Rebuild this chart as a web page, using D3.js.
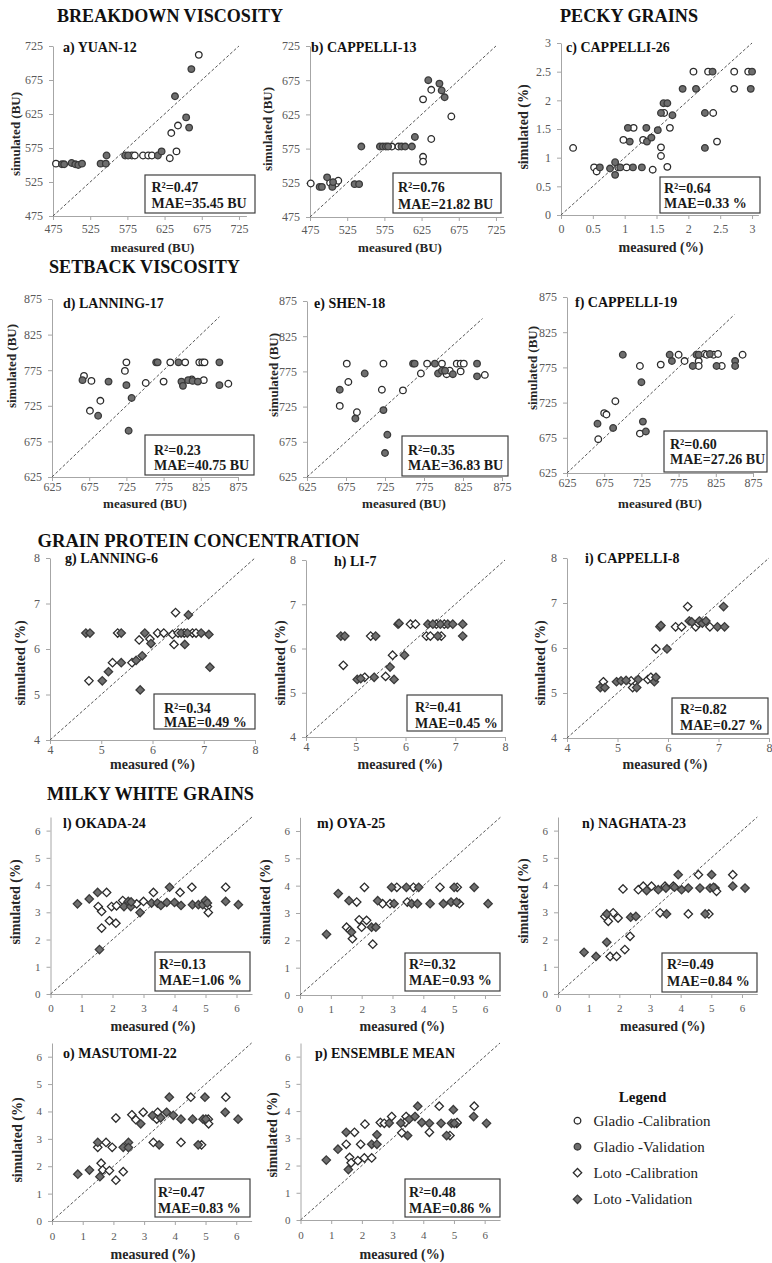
<!DOCTYPE html>
<html>
<head>
<meta charset="utf-8">
<script src="https://cdn.jsdelivr.net/npm/d3@7"></script>
<style>
  body { margin: 0; background: #fff; }
  svg text { font-family: "Liberation Serif", "Times New Roman", serif; }
  .axis path, .axis line { stroke: #a6a6a6; stroke-width: 1; }
  .axis text { fill: #595959; }
</style>
</head>
<body>
<svg id="fig" width="772" height="1263"></svg>
<script>
// ---------------- data ----------------
// [measured, simulated] pairs, calibration (open) and validation (filled)
const yuanCal = [[479,552],[581,564],[585,564],[596,564],[603,564],[608,564],[632,560],[634,597],[641,570],[643,608],[671,712]];
const yuanVal = [[487,551],[490,551],[500,553],[505,551],[509,550],[514,552],[539,552],[546,552],[547,564],[572,564],[576,564],[616,564],[621,570],[639,651],[654,620],[658,605],[661,691]];

const cappelli13Cal = [[476,524],[502,525],[510,524],[513,528],[585,578],[594,578],[627,647],[627,563],[627,556],[638,661],[638,589],[665,622]];
const cappelli13Val = [[488,519],[491,519],[498,533],[505,519],[506,526],[535,523],[541,523],[544,578],[569,578],[573,578],[577,578],[580,578],[598,578],[603,578],[612,578],[616,592],[634,675],[649,670],[652,660],[656,650]];

const cappelli26Cal = [[0.19,1.17],[0.52,0.83],[0.56,0.76],[0.90,0.83],[0.98,1.31],[1.03,0.83],[1.14,1.52],[1.29,1.31],[1.44,0.79],[1.57,1.03],[1.57,1.18],[1.62,1.78],[1.67,0.84],[1.71,1.52],[2.08,2.5],[2.31,2.5],[2.39,1.78],[2.45,1.28],[2.72,2.5],[2.72,2.2],[2.94,2.5]];
const cappelli26Val = [[0.61,0.83],[0.77,0.81],[0.85,0.92],[0.85,0.70],[0.93,0.83],[1.05,1.52],[1.08,1.28],[1.13,0.83],[1.27,0.83],[1.34,1.52],[1.35,1.28],[1.42,1.35],[1.52,1.48],[1.57,1.78],[1.61,1.95],[1.67,1.95],[1.75,1.74],[1.91,2.2],[2.12,2.2],[2.26,1.78],[2.26,1.17],[2.38,2.5],[2.98,2.2],[3.0,2.5]];

const lanning17Cal = [[668,767],[678,760],[676,718],[690,732],[723,774],[725,786],[751,757],[775,759],[784,786],[804,786],[813,762],[823,786],[827,786],[830,786],[829,761],[862,756]];
const lanning17Val = [[666,761],[687,711],[701,759],[725,754],[732,736],[728,690],[765,786],[767,786],[795,786],[799,759],[801,753],[808,761],[814,760],[821,759],[850,786],[850,754]];

const shen18Cal = [[676,786],[678,760],[667,726],[689,717],[723,786],[721,749],[748,748],[771,772],[779,786],[798,786],[804,771],[808,776],[817,786],[822,786],[826,786],[822,775],[853,770]];
const shen18Val = [[667,749],[699,772],[687,708],[723,720],[728,685],[725,659],[761,786],[763,786],[789,786],[793,772],[798,776],[802,776],[812,771],[843,786],[843,768]];

const cappelli19Cal = [[667,673],[675,710],[678,708],[690,727],[723,777],[723,681],[751,779],[775,793],[783,784],[802,784],[802,777],[810,794],[813,793],[822,793],[828,794],[833,777],[861,793]];
const cappelli19Val = [[666,695],[687,689],[700,793],[725,754],[727,698],[731,684],[763,793],[766,784],[794,777],[799,793],[802,793],[817,794],[826,777],[851,784],[851,777]];

const lanning6Cal = [[4.76,5.3],[5.22,5.7],[5.32,6.35],[5.6,5.7],[5.74,6.2],[5.95,6.22],[6.1,6.35],[6.22,6.35],[6.39,6.32],[6.42,6.1],[6.45,6.8],[6.5,6.35],[6.62,6.35],[6.78,6.35],[6.85,6.35]];
const lanning6Val = [[4.7,6.35],[4.78,6.35],[5.02,5.3],[5.14,5.5],[5.39,6.35],[5.39,5.7],[5.68,5.75],[5.76,5.1],[5.8,5.85],[5.85,6.35],[5.97,6.12],[6.56,6.35],[6.63,6.1],[6.7,6.75],[6.68,6.35],[6.95,6.35],[7.1,6.32],[7.12,5.6]];

const li7Cal = [[4.75,5.62],[5.18,5.35],[5.3,6.28],[5.6,5.37],[5.74,5.85],[6.1,6.55],[6.2,6.55],[6.42,6.28],[6.5,6.28],[6.62,6.55],[6.72,6.28],[6.78,6.55]];
const li7Val = [[4.7,6.28],[4.78,6.28],[5.03,5.3],[5.1,5.32],[5.4,6.28],[5.37,5.35],[5.69,5.58],[5.77,5.3],[5.85,6.55],[5.87,6.57],[5.98,5.85],[6.45,6.55],[6.55,6.55],[6.65,6.28],[6.7,6.55],[6.85,6.55],[6.95,6.55],[7.15,6.55],[7.15,6.28]];

const cappelli8Cal = [[4.72,5.25],[5.27,5.27],[5.3,5.12],[5.6,5.3],[5.66,5.35],[5.76,5.98],[6.15,6.47],[6.27,6.47],[6.39,6.92],[6.55,6.47],[6.6,6.55],[6.83,6.47]];
const cappelli8Val = [[4.66,5.12],[4.75,5.12],[4.98,5.25],[5.07,5.27],[5.17,5.28],[5.38,5.12],[5.41,5.3],[5.73,5.25],[5.76,5.35],[5.84,6.47],[5.86,6.5],[5.98,5.98],[6.42,6.6],[6.47,6.58],[6.62,6.6],[6.68,6.55],[6.75,6.6],[6.98,6.47],[7.1,6.92],[7.12,6.47]];

const okada24Cal = [[1.54,3.21],[1.65,3.03],[1.65,2.42],[1.81,3.73],[1.9,2.69],[1.97,3.21],[2.13,3.24],[2.11,2.6],[2.33,3.43],[2.78,3.31],[3.0,3.4],[3.32,3.73],[4.18,3.73],[4.56,3.92],[5.06,3.21],[5.09,2.99],[5.65,3.92]];
const okada24Val = [[0.87,3.31],[1.25,3.49],[1.52,3.73],[1.58,1.63],[2.37,3.21],[2.51,3.4],[2.59,3.21],[2.6,3.38],[2.89,2.99],[3.26,3.34],[3.45,3.34],[3.56,3.25],[3.75,3.36],[3.84,3.92],[4.0,3.36],[4.21,3.25],[4.58,3.28],[4.77,3.28],[4.91,3.28],[5.0,3.43],[5.06,3.34],[5.65,3.4],[6.06,3.28]];

const oya25Cal = [[1.51,2.48],[1.62,2.36],[1.7,2.06],[1.84,3.4],[1.92,2.75],[2.0,2.48],[2.16,2.73],[2.09,3.94],[2.36,1.86],[2.68,3.34],[2.92,3.34],[3.14,3.94],[3.48,3.4],[3.68,3.94],[4.54,3.94],[5.1,3.94],[5.17,3.34]];
const oya25Val = [[0.86,2.22],[1.24,3.71],[1.59,3.45],[1.67,2.3],[2.32,2.48],[2.46,2.48],[2.52,3.45],[2.97,3.94],[3.05,3.34],[3.45,3.94],[3.62,3.34],[3.81,3.34],[3.85,3.94],[4.22,3.34],[4.65,3.34],[4.9,3.4],[5.0,3.94],[5.08,3.4],[5.65,3.94],[6.1,3.34]];

const naghata23Cal = [[1.53,2.85],[1.64,2.67],[1.7,1.38],[1.8,2.98],[1.91,1.38],[1.96,2.79],[2.12,3.86],[2.18,1.63],[2.35,2.12],[2.62,3.83],[2.78,3.96],[3.05,3.96],[3.33,2.98],[3.49,3.96],[3.76,3.96],[4.25,2.94],[4.58,4.38],[4.92,2.94],[5.12,3.89],[5.17,3.77],[5.7,4.38]];
const naghata23Val = [[0.85,1.53],[1.24,1.38],[1.59,2.94],[1.59,1.9],[2.37,2.82],[2.54,2.85],[2.89,3.8],[3.27,3.83],[3.52,3.89],[3.54,2.94],[3.8,3.92],[3.92,4.38],[4.03,3.83],[4.25,3.89],[4.63,3.89],[4.8,2.94],[4.96,3.89],[5.01,4.38],[5.07,3.92],[5.7,3.96],[6.1,3.89]];

const masutomi22Cal = [[1.49,2.69],[1.6,2.11],[1.65,1.86],[1.76,2.87],[1.87,1.84],[1.96,2.69],[2.08,1.49],[2.08,3.76],[2.32,1.8],[2.6,3.88],[2.73,3.7],[2.97,3.97],[3.3,2.87],[3.44,3.97],[3.41,3.72],[4.2,2.87],[4.52,4.52],[4.87,2.78],[5.09,3.72],[5.1,3.55],[5.66,4.52]];
const masutomi22Val = [[0.84,1.71],[1.22,1.86],[1.49,2.87],[1.56,1.62],[2.32,2.69],[2.49,2.87],[2.49,2.68],[2.89,3.55],[3.27,3.85],[3.49,2.78],[3.54,3.77],[3.73,3.97],[3.82,4.52],[3.95,3.86],[4.2,3.72],[4.58,3.72],[4.76,2.78],[4.98,4.52],[4.92,3.72],[5.01,3.72],[5.64,3.97],[6.06,3.72]];

const ensembleCal = [[1.49,2.78],[1.6,2.3],[1.65,2.1],[1.76,3.22],[1.87,2.18],[1.96,2.78],[2.08,2.28],[2.1,3.52],[2.32,2.28],[2.6,3.58],[2.73,3.55],[2.97,3.8],[3.3,3.2],[3.44,3.8],[3.41,3.58],[4.2,3.22],[4.52,4.18],[4.87,3.1],[5.09,3.55],[5.1,3.58],[5.66,4.18]];
const ensembleVal = [[0.84,2.2],[1.22,2.6],[1.49,3.22],[1.56,1.85],[2.32,2.78],[2.49,2.78],[2.49,3.13],[2.89,3.56],[3.27,3.56],[3.49,3.1],[3.54,3.7],[3.73,3.8],[3.82,4.18],[3.95,3.58],[4.2,3.55],[4.58,3.55],[4.76,3.1],[4.98,4.05],[4.92,3.55],[5.01,3.55],[5.64,3.8],[6.06,3.55]];

// goodness-of-fit statistics [R2, MAE]
const breakdownStats = [["0.47", "35.45 BU"], ["0.76", "21.82 BU"]];
const peckyStats = [["0.64", "0.33 %"]];
const setbackStats = [["0.23", "40.75 BU"], ["0.35", "36.83 BU"], ["0.60", "27.26 BU"]];
const proteinStats = [["0.34", "0.49 %"], ["0.41", "0.45 %"], ["0.82", "0.27 %"]];
const milkyStats = [["0.13", "1.06 %"], ["0.32", "0.93 %"], ["0.49", "0.84 %"], ["0.47", "0.83 %"], ["0.48", "0.86 %"]];

// tick values
const breakdownTicks = [475, 525, 575, 625, 675, 725];
const peckyTicks = [0, 0.5, 1, 1.5, 2, 2.5, 3];
const setbackTicks = [625, 675, 725, 775, 825, 875];
const proteinTicks = [4, 5, 6, 7, 8];
const milkyTicks = [0, 1, 2, 3, 4, 5, 6];

const sectionTitles = ["BREAKDOWN VISCOSITY", "PECKY GRAINS", "SETBACK VISCOSITY", "GRAIN PROTEIN CONCENTRATION", "MILKY WHITE GRAINS"];
const legendLabels = ["Gladio -Calibration", "Gladio -Validation", "Loto -Calibration", "Loto -Validation"];

// ---------------- panels ----------------
const BU = {x: "measured (BU)", y: "simulated (BU)", yf: 13};
const PC = {x: "measured (%)", y: "simulated (%)", yf: 14};

const panels = [
  {t: "a) YUAN-12", cal: yuanCal, val: yuanVal, st: breakdownStats[0], shape: "c", ticks: breakdownTicks, lab: BU,
   xd: [475, 735], xr: [53, 246.4], yd: [475, 725], yr: [216, 46], one: [475, 725], pad: 4.5, tf: 12,
   tp: [63, 52], yl: [15, 134], xl: [152.5, 252], box: [145, 175, 110, 38], sx: 151.5, sy: [191.5, 208]},
  {t: "b) CAPPELLI-13", cal: cappelli13Cal, val: cappelli13Val, st: breakdownStats[1], shape: "c", ticks: breakdownTicks, lab: BU,
   xd: [475, 735], xr: [310, 503.4], yd: [475, 725], yr: [217, 46], one: [475, 725], pad: 4.5, tf: 12,
   tp: [311, 52], yl: [267, 129], xl: [400, 252], box: [393, 173, 108, 40], sx: 398, sy: [192, 209]},
  {t: "c) CAPPELLI-26", cal: cappelli26Cal, val: cappelli26Val, st: peckyStats[0], shape: "c", ticks: peckyTicks, lab: PC,
   xd: [0, 3.1], xr: [561, 758.4], yd: [0, 3], yr: [215, 43], one: [0, 3], pad: 5.5, tf: 12,
   tp: [566, 51.5], yl: [523, 127], xl: [661, 252], box: [660, 177, 100, 36], sx: 664, sy: [193, 208]},
  {t: "d) LANNING-17", cal: lanning17Cal, val: lanning17Val, st: setbackStats[0], shape: "c", ticks: setbackTicks, lab: BU,
   xd: [625, 875], xr: [52, 238], yd: [625, 875], yr: [477, 299], one: [625, 850], pad: 1, tf: 12,
   tp: [63, 308], yl: [11, 366], xl: [145, 508], box: [145, 435, 109, 40], sx: 154, sy: [455, 470]},
  {t: "e) SHEN-18", cal: shen18Cal, val: shen18Val, st: setbackStats[1], shape: "c", ticks: setbackTicks, lab: BU,
   xd: [625, 875], xr: [307, 502], yd: [625, 875], yr: [477, 301], one: [625, 850], pad: 1, tf: 12,
   tp: [314, 308], yl: [273, 375], xl: [404, 508], box: [402, 436, 106, 40], sx: 408, sy: [455, 470]},
  {t: "f) CAPPELLI-19", cal: cappelli19Cal, val: cappelli19Val, st: setbackStats[2], shape: "c", ticks: setbackTicks, lab: BU,
   xd: [625, 875], xr: [567, 753], yd: [625, 875], yr: [473, 297], one: [625, 850], pad: 1, tf: 12,
   tp: [575, 306.5], yl: [532, 368], xl: [660, 508], box: [664, 431, 103, 41], sx: 670, sy: [449, 464]},
  {t: "g) LANNING-6", cal: lanning6Cal, val: lanning6Val, st: proteinStats[0], shape: "d", ticks: proteinTicks, lab: PC,
   xd: [4, 8], xr: [50, 255], yd: [4, 8], yr: [740, 558], one: [4, 8], pad: 1, tf: 12,
   tp: [65, 563], yl: [20, 663], xl: [152.5, 769], box: [154, 694, 101, 35], sx: 164, sy: [712.5, 727]},
  {t: "h) LI-7", cal: li7Cal, val: li7Val, st: proteinStats[1], shape: "d", ticks: proteinTicks, lab: PC,
   xd: [4, 8], xr: [306, 505], yd: [4, 8], yr: [737, 560], one: [4, 8], pad: 1, tf: 12,
   tp: [334, 566], yl: [280, 663], xl: [400, 769], box: [407, 695, 95, 36], sx: 415, sy: [711.5, 728]},
  {t: "i) CAPPELLI-8", cal: cappelli8Cal, val: cappelli8Val, st: proteinStats[2], shape: "d", ticks: proteinTicks, lab: PC,
   xd: [4, 8], xr: [567, 769], yd: [4, 8], yr: [738, 558], one: [4, 8], pad: 1, tf: 12,
   tp: [585, 563], yl: [540, 663], xl: [665, 769], box: [672, 698, 96, 36], sx: 680, sy: [714, 730]},
  {t: "l) OKADA-24", cal: okada24Cal, val: okada24Val, st: milkyStats[0], shape: "d", ticks: milkyTicks, lab: PC,
   xd: [0, 6.5], xr: [50.5, 252], yd: [0, 6.5], yr: [994, 817], one: [0, 6.5], pad: 6, tf: 11,
   tp: [63, 828], yl: [15, 902], xl: [153, 1031], box: [155, 952, 95, 39], sx: 159, sy: [969, 985]},
  {t: "m) OYA-25", cal: oya25Cal, val: oya25Val, st: milkyStats[1], shape: "d", ticks: milkyTicks, lab: PC,
   xd: [0, 6.5], xr: [300, 500.4], yd: [0, 6.5], yr: [995, 817.3], one: [0, 6.5], pad: 6, tf: 11,
   tp: [317, 828], yl: [265, 902], xl: [402, 1031], box: [405, 953, 95, 38], sx: 409, sy: [969, 985]},
  {t: "n) NAGHATA-23", cal: naghata23Cal, val: naghata23Val, st: milkyStats[2], shape: "d", ticks: milkyTicks, lab: PC,
   xd: [0, 6.5], xr: [558, 757.3], yd: [0, 6.5], yr: [994, 817], one: [0, 6.5], pad: 6, tf: 11,
   tp: [582, 828], yl: [523, 901], xl: [662.5, 1031], box: [662, 953, 95, 39], sx: 667, sy: [969, 985.5]},
  {t: "o) MASUTOMI-22", cal: masutomi22Cal, val: masutomi22Val, st: milkyStats[3], shape: "d", ticks: milkyTicks, lab: PC,
   xd: [0, 6.5], xr: [52, 251.6], yd: [0, 6.5], yr: [1221, 1043], one: [0, 6.5], pad: 7.5, tf: 11,
   tp: [63, 1058], yl: [17, 1140], xl: [153, 1259], box: [155, 1179, 95, 38], sx: 158, sy: [1196.5, 1213]},
  {t: "p) ENSEMBLE MEAN", cal: ensembleCal, val: ensembleVal, st: milkyStats[4], shape: "d", ticks: milkyTicks, lab: PC,
   xd: [0, 6.5], xr: [300.5, 500], yd: [0, 6.5], yr: [1220, 1043], one: [0, 6.5], pad: 7.5, tf: 11,
   tp: [315, 1058], yl: [272, 1135], xl: [402, 1259], box: [405, 1179, 95, 38], sx: 409, sy: [1196.5, 1213]}
];

// section headings: [x, baseline, width]
const headingPos = [[57, 22, 226], [560, 22, 138], [49, 273, 191], [37.5, 547, 322], [47, 800, 207]];

const svg = d3.select("#fig");
const OPEN = {fill: "#ffffff", stroke: "#2b2b2b"};
const FILLED = {fill: "#6e6e6e", stroke: "#3a3a3a"};
const diamond = "M0,-4.2L4.2,0L0,4.2L-4.2,0Z";

function marker(sel, shape, style) {
  if (shape === "c") {
    sel.append("circle").attr("r", 3.3);
  } else {
    sel.append("path").attr("d", diamond);
  }
  sel.selectAll("circle,path")
    .attr("fill", style.fill).attr("stroke", style.stroke).attr("stroke-width", 1.3);
}

function drawPanel(p) {
  const g = svg.append("g");
  const x = d3.scaleLinear().domain(p.xd).range(p.xr);
  const y = d3.scaleLinear().domain(p.yd).range(p.yr);
  const fmt = d => String(d);

  g.append("g").attr("class", "axis")
    .attr("transform", `translate(0,${p.yr[0]})`)
    .call(d3.axisBottom(x).tickValues(p.ticks).tickSize(4).tickSizeOuter(0).tickPadding(p.pad).tickFormat(fmt))
    .attr("font-family", "Liberation Serif").attr("font-size", p.tf);

  g.append("g").attr("class", "axis")
    .attr("transform", `translate(${p.xr[0]},0)`)
    .call(d3.axisLeft(y).tickValues(p.ticks).tickSize(4).tickSizeOuter(0).tickPadding(6).tickFormat(fmt))
    .attr("font-family", "Liberation Serif").attr("font-size", p.tf);

  // 1:1 reference line
  g.append("line")
    .attr("x1", x(p.one[0])).attr("y1", y(p.one[0]))
    .attr("x2", x(p.one[1])).attr("y2", y(p.one[1]))
    .attr("stroke", "#555").attr("stroke-width", 1).attr("stroke-dasharray", "3,2");

  // points
  [[p.cal, OPEN], [p.val, FILLED]].forEach(([data, style]) => {
    g.append("g").selectAll("g").data(data).join("g")
      .attr("transform", d => `translate(${x(d[0])},${y(d[1])})`)
      .call(sel => marker(sel, p.shape, style));
  });

  // panel title
  g.append("text").attr("x", p.tp[0]).attr("y", p.tp[1])
    .attr("font-size", 14).attr("font-weight", "bold").attr("fill", "#111").text(p.t);

  // axis titles
  g.append("text").attr("x", p.xl[0]).attr("y", p.xl[1]).attr("text-anchor", "middle")
    .attr("font-size", p.lab.yf).attr("font-weight", "bold").attr("fill", "#262626").text(p.lab.x);
  g.append("text").attr("transform", `translate(${p.yl[0]},${p.yl[1]}) rotate(-90)`)
    .attr("text-anchor", "middle").attr("dy", "0.35em")
    .attr("font-size", p.lab.yf).attr("font-weight", "bold").attr("fill", "#262626").text(p.lab.y);

  // statistics box
  g.append("rect").attr("x", p.box[0]).attr("y", p.box[1]).attr("width", p.box[2]).attr("height", p.box[3])
    .attr("fill", "#fff").attr("stroke", "#404040").attr("stroke-width", 1.2);
  g.append("text").attr("x", p.sx).attr("y", p.sy[0]).attr("font-size", 14).attr("font-weight", "bold")
    .attr("fill", "#1a1a1a").text("R\u00B2=" + p.st[0]);
  g.append("text").attr("x", p.sx).attr("y", p.sy[1]).attr("font-size", 14).attr("font-weight", "bold")
    .attr("fill", "#1a1a1a").text("MAE=" + p.st[1]);
}

sectionTitles.forEach((s, i) => {
  const [hx, hy, hw] = headingPos[i];
  svg.append("text").attr("x", hx).attr("y", hy)
    .attr("font-size", 19).attr("font-weight", "bold").attr("fill", "#111")
    .attr("textLength", hw).attr("lengthAdjust", "spacingAndGlyphs").text(s);
});

panels.forEach(drawPanel);

// legend
const lg = svg.append("g");
lg.append("text").attr("x", 642.5).attr("y", 1102).attr("text-anchor", "middle")
  .attr("font-size", 15).attr("font-weight", "bold").attr("fill", "#111").text("Legend");
const legendStyles = [["c", OPEN], ["c", FILLED], ["d", OPEN], ["d", FILLED]];
const legendRows = [1120.7, 1146.7, 1172.7, 1199.3];
legendLabels.forEach((lab, i) => {
  const row = lg.append("g").attr("transform", `translate(577.5,${legendRows[i]})`);
  marker(row, legendStyles[i][0], legendStyles[i][1]);
  row.append("text").attr("x", 16).attr("y", 5).attr("font-size", 15).attr("fill", "#222").text(lab);
});
</script>
</body>
</html>
